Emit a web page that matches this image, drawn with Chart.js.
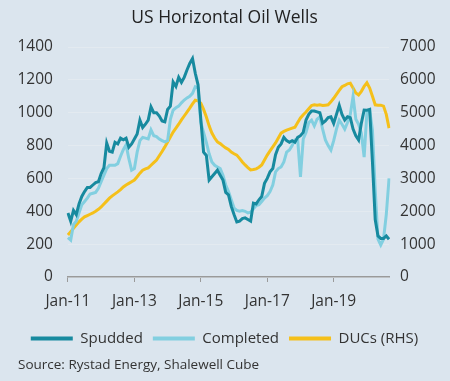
<!DOCTYPE html>
<html>
<head>
<meta charset="utf-8">
<script src="https://cdn.jsdelivr.net/npm/chart.js@4/dist/chart.umd.min.js"></script>
<style>
  html, body { margin: 0; padding: 0; background: #dbe5ee; }
  #wrap { position: relative; width: 450px; height: 381px; }
  #source { position: absolute; left: 18px; top: 355px; font: 13.5px/19px 'Open Sans', 'Noto Sans', sans-serif; color: #333; white-space: nowrap; }
</style>
</head>
<body>
<div id="wrap"><canvas id="c" width="450" height="381"></canvas><div id="source">Source: Rystad Energy, Shalewell Cube</div></div>
<script>
// Monthly data, Jan-2011 .. Sep-2020
const startYear = 2011;
const monthNames = ['Jan','Feb','Mar','Apr','May','Jun','Jul','Aug','Sep','Oct','Nov','Dec'];
const tickLabels = ['Jan-11', 'Jan-13', 'Jan-15', 'Jan-17', 'Jan-19'];

const spudded = [
  390,340,405,380,445,490,520,545,545,560,575,580,630,665,815,765,760,820,810,845,835,845,790,810,840,870,955,910,
  930,955,1035,1000,1000,980,950,945,1020,1040,1187,1160,1215,1185,1215,1260,1300,1330,1240,1170,960,760,740,590,610,630,650,620,590,
  515,500,430,380,335,340,355,360,350,340,450,445,470,490,570,600,640,660,745,790,810,850,830,820,830,820,850,860,880,
  955,990,1010,1010,1005,1000,937,950,970,975,935,990,1045,990,955,975,970,900,860,834,937,1016,1015,1020,700,350,250,235,235,250,230
];
const completed = [
  240,225,320,340,390,440,460,480,505,510,515,540,580,620,660,680,680,680,690,735,775,805,720,650,660,760,830,850,
  845,840,895,860,855,840,830,822,830,960,1016,1030,1040,1060,1077,1090,1100,1118,1158,1150,940,880,820,750,700,680,670,660,620,
  560,520,470,420,405,400,405,400,390,395,415,435,440,460,480,495,520,560,640,660,670,700,760,773,800,834,834,610,840,
  880,940,955,920,960,974,900,834,800,773,830,900,955,930,900,940,990,1100,960,930,875,730,1000,1016,895,530,230,195,230,380,600
];
const ducs = [
  1280,1380,1480,1580,1680,1760,1830,1870,1910,1950,
  2000,2060,2130,2220,2310,2400,2470,2530,2590,2660,
  2740,2800,2850,2900,2950,3050,3160,3250,3290,3320,
  3400,3480,3560,3690,3820,3960,4110,4260,4410,4530,
  4650,4780,4900,5020,5140,5270,5380,5360,5290,5100,
  4870,4600,4380,4230,4110,4060,3990,3930,3880,3800,
  3750,3710,3610,3500,3410,3330,3260,3270,3290,3340,
  3410,3560,3710,3840,3960,4080,4230,4380,4430,4470,
  4500,4530,4560,4700,4840,4940,5020,5120,5220,5240,
  5230,5240,5220,5230,5240,5330,5440,5560,5680,5790,
  5830,5880,5900,5750,5600,5540,5650,5800,5910,5750,
  5500,5240,5230,5230,5200,4950,4530
];

const months = [];
for (let i = 0; i < spudded.length; i++) {
  const y = startYear + Math.floor(i / 12);
  months.push(monthNames[i % 12] + '-' + String(y).slice(2));
}

const FONT = "'Open Sans', 'Noto Sans', sans-serif";
const TXT = '#333333';

const bgPlugin = {
  id: 'bg',
  beforeDraw(chart) {
    const ctx = chart.ctx;
    ctx.save();
    ctx.fillStyle = '#dbe5ee';
    ctx.fillRect(0, 0, chart.width, chart.height);
    ctx.restore();
  }
};

new Chart(document.getElementById('c'), {
  type: 'line',
  data: {
    labels: months,
    datasets: [
      { label: 'Spudded', data: spudded, borderColor: '#178a9f', backgroundColor: '#178a9f', borderWidth: 3, pointRadius: 0, tension: 0, yAxisID: 'y' },
      { label: 'Completed', data: completed, borderColor: '#82cfe0', backgroundColor: '#82cfe0', borderWidth: 3, pointRadius: 0, tension: 0, yAxisID: 'y' },
      { label: 'DUCs (RHS)', data: ducs, borderColor: '#f5c01a', backgroundColor: '#f5c01a', borderWidth: 3, pointRadius: 0, tension: 0, yAxisID: 'y1' }
    ]
  },
  options: {
    responsive: false,
    animation: false,
    devicePixelRatio: 1,
    layout: { padding: { left: 2.5, right: 3.5, top: 0, bottom: 25 } },
    plugins: {
      title: {
        display: true,
        text: 'US Horizontal Oil Wells',
        color: '#222222',
        font: { family: FONT, size: 17.5, weight: 'normal' },
        padding: { top: 8, bottom: 18 }
      },
      legend: {
        position: 'bottom',
        labels: {
          color: TXT,
          font: { family: FONT, size: 15 },
          boxWidth: 42,
          boxHeight: 4,
          padding: 10,
          generateLabels(chart) {
            const items = Chart.defaults.plugins.legend.labels.generateLabels(chart);
            items.forEach(it => { it.fillStyle = it.strokeStyle; it.lineWidth = 0; });
            return items;
          }
        }
      },
      tooltip: { enabled: false }
    },
    scales: {
      x: {
        type: 'category',
        offset: false,
        grid: {
          drawOnChartArea: false,
          drawTicks: true,
          tickLength: 5,
          color: ctx => (tickLabels.includes(months[ctx.index]) ? '#9a9a9a' : 'rgba(0,0,0,0)')
        },
        border: { display: true, color: '#9a9a9a', width: 1.5 },
        ticks: {
          autoSkip: false,
          maxRotation: 0,
          minRotation: 0,
          padding: 10.2,
          color: TXT,
          font: { family: FONT, size: 15.5 },
          callback: function (v, i) { const l = months[i]; return tickLabels.includes(l) ? l : ''; }
        }
      },
      y: {
        position: 'left',
        min: 0, max: 1400,
        grid: { color: '#e3eaf0', lineWidth: 1, drawTicks: false },
        border: { display: false },
        ticks: { stepSize: 200, padding: 15, color: TXT, font: { family: FONT, size: 15.5 }, callback: v => String(v) }
      },
      y1: {
        position: 'right',
        min: 0, max: 7000,
        grid: { drawOnChartArea: false, drawTicks: false },
        border: { display: false },
        ticks: { stepSize: 1000, padding: 11, color: TXT, font: { family: FONT, size: 15.5 }, callback: v => String(v) }
      }
    }
  },
  plugins: [bgPlugin]
});
</script>
</body>
</html>
